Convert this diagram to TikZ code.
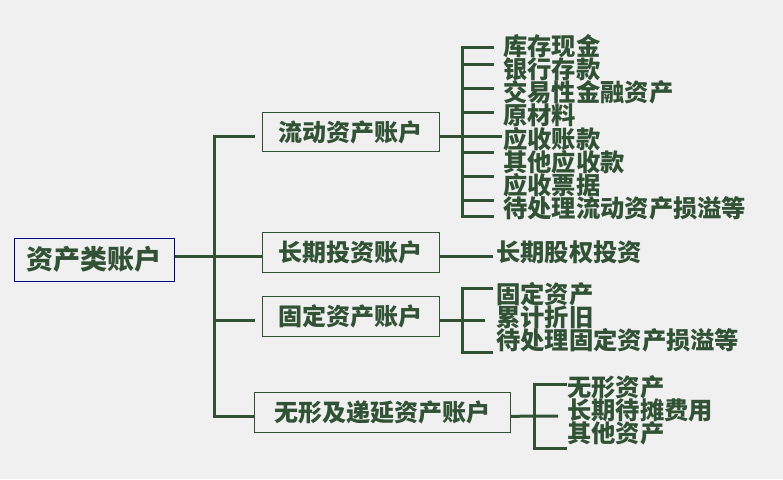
\documentclass[tikz,border=0pt]{standalone}
\usepackage{fontspec}
\newfontfamily\cjk{Noto Sans CJK SC}
\definecolor{ink}{RGB}{50,82,54}
\definecolor{bg}{RGB}{240,240,240}
\definecolor{navy}{RGB}{0,0,128}
\begin{document}
\begin{tikzpicture}[x=1pt,y=-1pt,
  conn/.style={draw=ink, line width=3pt},
  catbox/.style={draw=ink, line width=1pt, text=ink, inner sep=0pt,
    font=\cjk\bfseries\fontsize{24}{24}\selectfont, text height=18.2pt, text depth=0pt,
    minimum width=177pt, minimum height=39.5pt},
  rootbox/.style={draw=navy, line width=1pt, text=ink, inner sep=0pt,
    font=\cjk\bfseries\fontsize{27}{27}\selectfont, text height=20.5pt, text depth=0pt,
    minimum width=160pt, minimum height=43pt},
  leaf/.style={anchor=west, inner sep=0pt, text=ink,
    font=\cjk\bfseries\fontsize{24.3}{24.3}\selectfont, text height=18.5pt, text depth=0pt}]
\fill[bg] (0,0) rectangle (783,479);
\useasboundingbox (0,0) rectangle (783,479);

% root and categories
\node[rootbox] (root) at (94.3,259.7) {资产类账户};
\node[catbox] (flow) at (350.5,132.2) {流动资产账户};
\node[catbox] (lt) at (350.5,252.5) {长期投资账户};
\node[catbox] (fx) at (350.5,316.7) {固定资产账户};
\node[catbox, minimum width=256pt] (ia) at (382,412.3) {无形及递延资产账户};

% main trunk
\coordinate (t1) at (214,136);
\coordinate (t4) at (214,416);
\draw[conn] (255,136) -- (t1) -- (t4) -- (ia.west |- t4);
\draw[conn] ([yshift=3.7pt]root.east) -- ([yshift=-3.5pt]lt.west);
\draw[conn] (214,320) -- (255,320);

% current assets leaves
\node[leaf] (c1) at (503,46) {库存现金};
\node[leaf] (c2) at (503,69.2) {银行存款};
\node[leaf] (c3) at (503,92.4) {交易性金融资产};
\node[leaf] (c4) at (503,115.6) {原材料};
\node[leaf] (c5) at (503,138.8) {应收账款};
\node[leaf] (c6) at (503,162) {其他应收款};
\node[leaf] (c7) at (503,185.2) {应收票据};
\node[leaf] (c8) at (503,208.4) {待处理流动资产损溢等};
\draw[conn] ([yshift=-4pt]flow.east) -- (502,136.2);
\draw[conn] (494,47) -- (462,47) -- (462,216) -- (494,216);
\foreach \yy in {64,88,112,152,176,200} \draw[conn] (462,\yy) -- (494,\yy);

% long-term investment
\node[leaf] (l1) at (496,252) {长期股权投资};
\draw[conn] ([yshift=-3.5pt]lt.east) -- (493,256);

% fixed assets
\node[leaf] (f1) at (496,294.5) {固定资产};
\node[leaf] (f2) at (496,317.3) {累计折旧};
\node[leaf] (f3) at (496,340.1) {待处理固定资产损溢等};
\draw[conn] ([yshift=-3.3pt]fx.east) -- (485,320);
\draw[conn] (493,288) -- (462,288) -- (462,352) -- (493,352);

% intangible assets
\node[leaf] (i1) at (567,387.5) {无形资产};
\node[leaf] (i2) at (567,410.5) {长期待摊费用};
\node[leaf] (i3) at (567,433.5) {其他资产};
\draw[conn] ([yshift=-4pt]ia.east) -- (558,416);
\draw[conn] (567,384) -- (534,384) -- (534,448) -- (567,448);
\end{tikzpicture}
\end{document}
